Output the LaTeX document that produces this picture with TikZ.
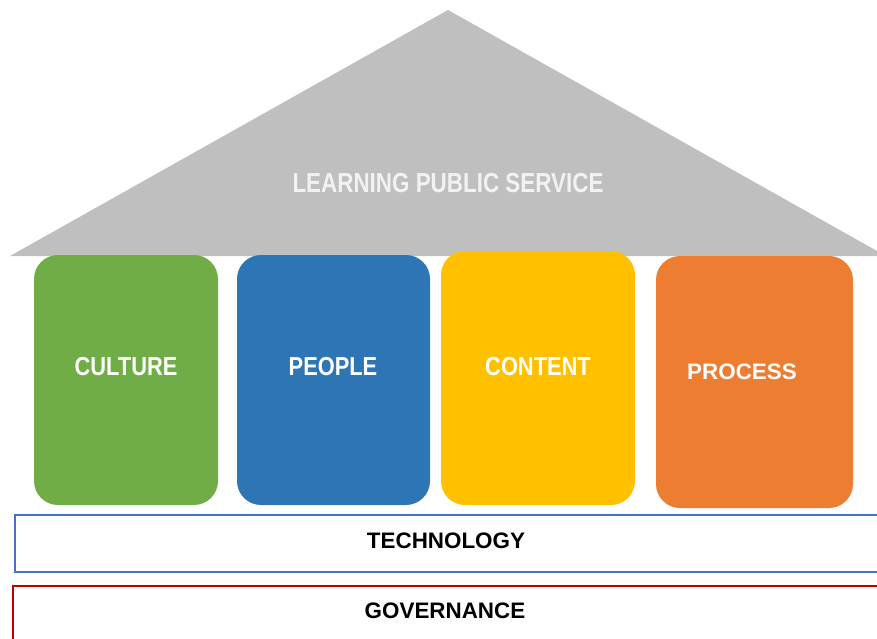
\documentclass[tikz,border=0pt]{standalone}
\usepackage{fontspec}
\setmainfont{Liberation Sans}
\newfontfamily\narrowfont[FakeStretch=0.84]{Liberation Sans}
\newfontfamily\roofnarrow[FakeStretch=0.815]{Liberation Sans}
\definecolor{roofgray}{HTML}{BFBFBF}
\definecolor{pgreen}{HTML}{70AD47}
\definecolor{pblue}{HTML}{2E75B6}
\definecolor{pyellow}{HTML}{FFC000}
\definecolor{porange}{HTML}{ED7D31}
\definecolor{techblue}{HTML}{4472C4}
\definecolor{govred}{HTML}{C00000}
\definecolor{offwhite}{HTML}{F2F2F2}
\begin{document}
\begin{tikzpicture}[x=1pt,y=-1pt,
  lbl/.style={font=\bfseries\fontsize{22.4}{26}\selectfont, inner sep=0pt, anchor=center},
  nlbl/.style={font=\narrowfont\bfseries\fontsize{26}{30}\selectfont, inner sep=0pt, anchor=center, text=white},
  rlbl/.style={font=\roofnarrow\bfseries\fontsize{27.5}{31}\selectfont, inner sep=0pt, anchor=center},
  pillar/.style={rounded corners=24pt}]
\useasboundingbox (0,0) rectangle (877,639);
\clip (0,0) rectangle (877,639);
% roof
\fill[roofgray] (10,256) -- (448,10) -- (886,256) -- cycle;
% pillars
\fill[pillar, pgreen]  (34,255) rectangle (218,505);
\fill[pillar, pblue]   (237,255) rectangle (430,505);
\fill[pillar, pyellow] (441,251) rectangle (635,505);
\fill[pillar, porange] (656,256) rectangle (853,508);
% base bars
\draw[techblue, line width=2pt] (900,515) -- (15,515) -- (15,572) -- (900,572);
\draw[govred, line width=2pt] (900,586) -- (13,586) -- (13,660);
% labels
\node[rlbl, text=offwhite] (roof) at (448,183) {LEARNING PUBLIC SERVICE};
\node[nlbl] (culture) at (126,367) {CULTURE};
\node[nlbl] (people)  at (333,367) {PEOPLE};
\node[nlbl] (content) at (538,367) {CONTENT};
\node[lbl, text=white] (process) at (742,372) {PROCESS};
\node[lbl, text=black] (tech) at (446,541) {TECHNOLOGY};
\node[lbl, text=black] (gov)  at (445,611) {GOVERNANCE};
\end{tikzpicture}
\end{document}
